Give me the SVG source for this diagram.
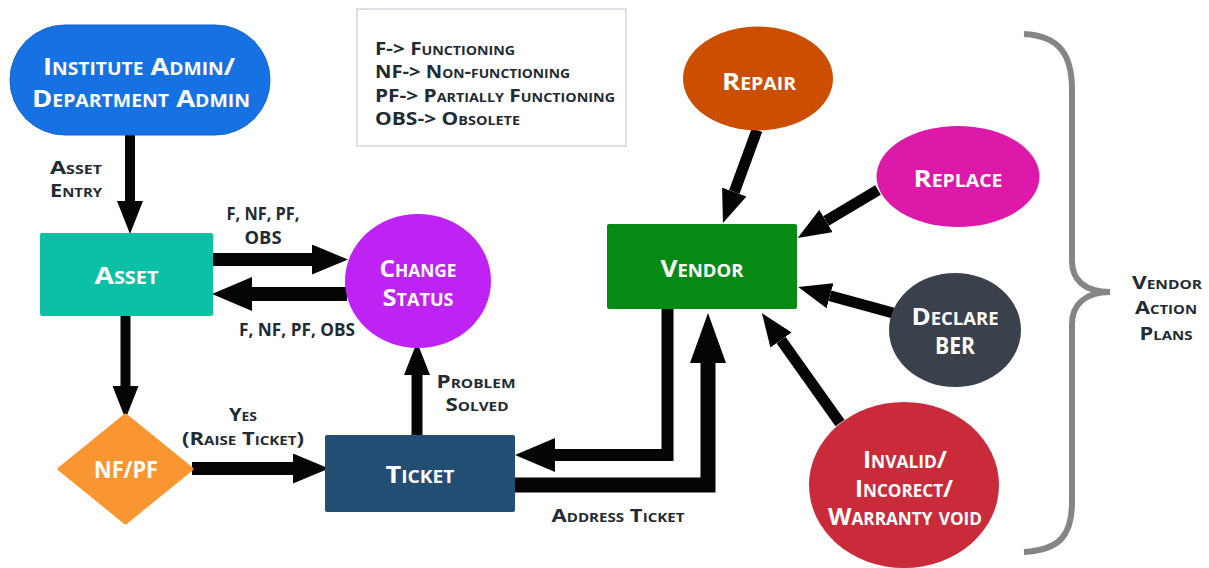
<svg xmlns="http://www.w3.org/2000/svg" width="1209" height="568" viewBox="0 0 1209 568">
  <defs>
    <style>
      .t { font-family: "Open Sans", "Lato", "DejaVu Sans", sans-serif; font-weight: 700; font-variant: small-caps; text-anchor: middle; dominant-baseline: central; }
      .node { fill: #ffffff; font-size: 24px; }
      .lbl { fill: #222b33; font-size: 17.5px; }
      .legend { fill: #222b33; font-size: 17.5px; text-anchor: start; }
      .edge { fill: none; stroke: #050505; stroke-linecap: butt; stroke-linejoin: miter; }
    </style>
    <marker id="hs" viewBox="0 0 33 26" refX="0" refY="13" markerWidth="33" markerHeight="26" markerUnits="userSpaceOnUse" orient="auto">
      <path d="M0,0 L33,13 L0,26 z" fill="#050505"/>
    </marker>
    <marker id="hm" viewBox="0 0 36 30" refX="0" refY="15" markerWidth="36" markerHeight="30" markerUnits="userSpaceOnUse" orient="auto">
      <path d="M0,0 L36,15 L0,30 z" fill="#050505"/>
    </marker>
    <marker id="hl" viewBox="0 0 40 34" refX="0" refY="17" markerWidth="40" markerHeight="34" markerUnits="userSpaceOnUse" orient="auto">
      <path d="M0,0 L40,17 L0,34 z" fill="#050505"/>
    </marker>
    <marker id="hx" viewBox="0 0 50 36" refX="0" refY="18" markerWidth="50" markerHeight="36" markerUnits="userSpaceOnUse" orient="auto">
      <path d="M0,0 L50,18 L0,36 z" fill="#050505"/>
    </marker>
  </defs>

  <rect width="1209" height="568" fill="#ffffff"/>

  <!-- legend of status abbreviations -->
  <g id="legend">
    <rect x="357" y="9" width="269" height="137" fill="#ffffff" stroke="#dcdfe3" stroke-width="2"/>
    <text class="t legend" x="375" y="48" textLength="140" lengthAdjust="spacingAndGlyphs">F-&gt; Functioning</text>
    <text class="t legend" x="375" y="71" textLength="195" lengthAdjust="spacingAndGlyphs">NF-&gt; Non-functioning</text>
    <text class="t legend" x="375" y="95" textLength="240" lengthAdjust="spacingAndGlyphs">PF-&gt; Partially Functioning</text>
    <text class="t legend" x="375" y="118" textLength="145" lengthAdjust="spacingAndGlyphs">OBS-&gt; Obsolete</text>
  </g>

  <!-- connectors -->
  <g id="connectors">
    <path class="edge" stroke-width="10" d="M130,135 V201" marker-end="url(#hs)"/>
    <path class="edge" stroke-width="13" d="M213,259.5 H312" marker-end="url(#hm)"/>
    <path class="edge" stroke-width="14" d="M347,294 H252" marker-end="url(#hl)"/>
    <path class="edge" stroke-width="10" d="M125.5,316 V386" marker-end="url(#hs)"/>
    <path class="edge" stroke-width="13" d="M192,468.5 H293" marker-end="url(#hm)"/>
    <path class="edge" stroke-width="11" d="M417,435 V375" marker-end="url(#hs)"/>
    <path class="edge" stroke-width="12" d="M667.5,309 V455 H555" marker-end="url(#hl)"/>
    <path class="edge" stroke-width="15" d="M515,485 H708 V363" marker-end="url(#hx)"/>
    <path class="edge" stroke-width="11" d="M757,130 L734.3,192" marker-end="url(#hs)"/>
    <path class="edge" stroke-width="11" d="M878,190 L826,221" marker-end="url(#hs)"/>
    <path class="edge" stroke-width="11" d="M893,313 L830,295.7" marker-end="url(#hs)"/>
    <path class="edge" stroke-width="11" d="M840,423 L781,340" marker-end="url(#hs)"/>
  </g>

  <!-- connector labels -->
  <g id="edge-labels">
    <text class="t lbl" x="76" y="167" textLength="52" lengthAdjust="spacingAndGlyphs">Asset</text>
    <text class="t lbl" x="76" y="190" textLength="52" lengthAdjust="spacingAndGlyphs">Entry</text>
    <text class="t lbl" x="263" y="213" textLength="73" lengthAdjust="spacingAndGlyphs">F, NF, PF,</text>
    <text class="t lbl" x="263" y="237" textLength="37" lengthAdjust="spacingAndGlyphs">OBS</text>
    <text class="t lbl" x="297" y="329" textLength="116" lengthAdjust="spacingAndGlyphs">F, NF, PF, OBS</text>
    <text class="t lbl" x="243" y="414" textLength="28" lengthAdjust="spacingAndGlyphs">Yes</text>
    <text class="t lbl" x="243" y="438" textLength="122" lengthAdjust="spacingAndGlyphs">(Raise Ticket)</text>
    <text class="t lbl" x="476" y="381" textLength="79" lengthAdjust="spacingAndGlyphs">Problem</text>
    <text class="t lbl" x="477" y="404" textLength="63" lengthAdjust="spacingAndGlyphs">Solved</text>
    <text class="t lbl" x="618" y="515" textLength="133" lengthAdjust="spacingAndGlyphs">Address Ticket</text>
  </g>

  <g id="admin">
    <rect x="10" y="25" width="260" height="110" rx="55" fill="#1672e3" stroke="#1565cf" stroke-width="1"/>
    <text class="t node" x="139" y="65" textLength="192" lengthAdjust="spacingAndGlyphs">Institute Admin/</text>
    <text class="t node" x="141" y="97" textLength="218" lengthAdjust="spacingAndGlyphs">Department Admin</text>
  </g>

  <g id="asset">
    <rect x="40" y="233" width="173" height="83" rx="2" fill="#0cc0a6"/>
    <text class="t node" x="126.5" y="274" textLength="64" lengthAdjust="spacingAndGlyphs">Asset</text>
  </g>

  <g id="change-status">
    <ellipse cx="418" cy="281" rx="73" ry="67" fill="#be23f4"/>
    <text class="t node" x="418" y="267" textLength="77" lengthAdjust="spacingAndGlyphs">Change</text>
    <text class="t node" x="418" y="296" textLength="71" lengthAdjust="spacingAndGlyphs">Status</text>
  </g>

  <g id="nfpf">
    <polygon points="125.5,415 192,469 125.5,523 59,469" fill="#fa9632" stroke="#fa9632" stroke-width="3" stroke-linejoin="round"/>
    <text class="t node" x="126" y="468" textLength="64" lengthAdjust="spacingAndGlyphs">NF/PF</text>
  </g>

  <g id="ticket">
    <rect x="325" y="435" width="190" height="77" rx="2" fill="#234e74"/>
    <text class="t node" x="420" y="473" textLength="69" lengthAdjust="spacingAndGlyphs">Ticket</text>
  </g>

  <g id="vendor">
    <rect x="607" y="224" width="190" height="85" rx="2" fill="#068a14"/>
    <text class="t node" x="702" y="267" textLength="83" lengthAdjust="spacingAndGlyphs">Vendor</text>
  </g>

  <g id="repair">
    <ellipse cx="758" cy="78.5" rx="75" ry="52" fill="#cc4e00"/>
    <text class="t node" x="759" y="80" textLength="74" lengthAdjust="spacingAndGlyphs">Repair</text>
  </g>

  <g id="replace">
    <ellipse cx="958" cy="176.5" rx="81.5" ry="50.5" fill="#dd19aa"/>
    <text class="t node" x="958" y="177" textLength="89" lengthAdjust="spacingAndGlyphs">Replace</text>
  </g>

  <g id="declare-ber">
    <ellipse cx="955" cy="330" rx="66" ry="57" fill="#3b414c"/>
    <text class="t node" x="955" y="315" textLength="87" lengthAdjust="spacingAndGlyphs">Declare</text>
    <text class="t node" x="955" y="344" textLength="40" lengthAdjust="spacingAndGlyphs">BER</text>
  </g>

  <g id="invalid">
    <ellipse cx="904" cy="485" rx="95" ry="83" fill="#c92b3b"/>
    <text class="t node" x="905" y="458" textLength="84" lengthAdjust="spacingAndGlyphs">Invalid/</text>
    <text class="t node" x="904" y="487" textLength="98" lengthAdjust="spacingAndGlyphs">Incorect/</text>
    <text class="t node" x="905" y="515" textLength="154" lengthAdjust="spacingAndGlyphs">Warranty void</text>
  </g>

  <g id="vendor-action-plans">
    <path d="M1024,34 C1060,36 1072,55 1072,90 L1072,261 C1072,280 1085,292 1110,292 C1085,292 1072,305 1072,324 L1072,502 C1072,535 1060,550 1024,552" fill="none" stroke="#858585" stroke-width="6"/>
    <text class="t lbl" x="1167" y="282" textLength="70" lengthAdjust="spacingAndGlyphs">Vendor</text>
    <text class="t lbl" x="1166" y="307" textLength="62" lengthAdjust="spacingAndGlyphs">Action</text>
    <text class="t lbl" x="1166" y="333" textLength="53" lengthAdjust="spacingAndGlyphs">Plans</text>
  </g>
</svg>
